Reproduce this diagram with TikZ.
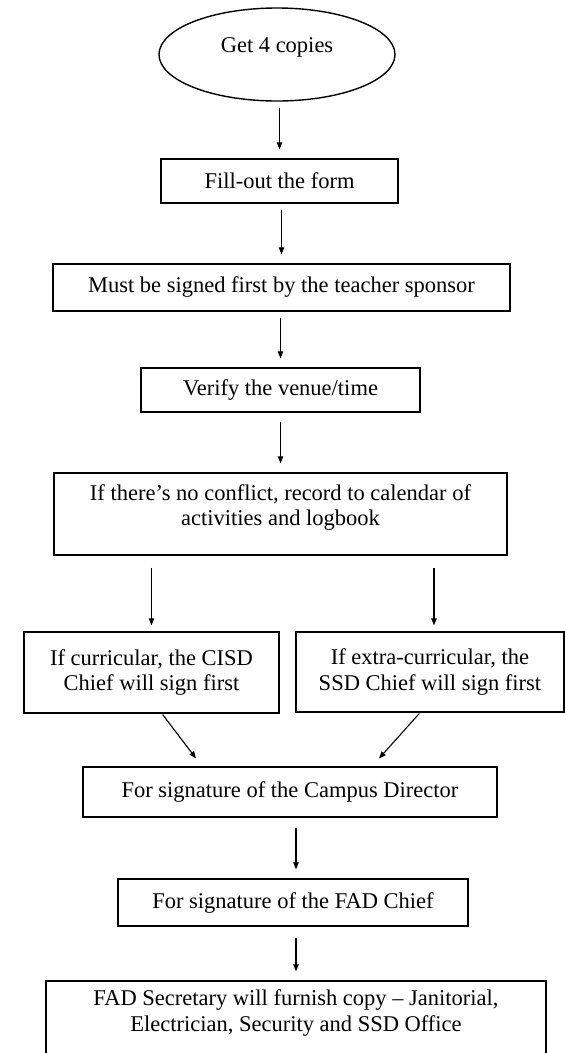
\documentclass[tikz,border=0pt]{standalone}
\usepackage{fontspec}
\setmainfont{Liberation Serif}
\usetikzlibrary{shapes.geometric,arrows.meta,calc}
\begin{document}
\begin{tikzpicture}[x=1pt,y=-1pt,
  every node/.style={font=\fontsize{22.5}{25.5}\selectfont, align=center},
  box/.style={draw, rectangle, line width=1.4pt, inner sep=0pt},
  oval/.style={draw, ellipse, line width=1.4pt, inner sep=0pt},
  arr/.style={-{Triangle[length=7pt,width=5.5pt]}, line width=1.1pt,
              shorten <=6pt, shorten >=9pt}]
  \useasboundingbox (0,0) rectangle (565,1053);

  % start
  \node[oval, minimum width=236, minimum height=93] (get) at (277,54.5) {};
  \node (gettext) at (277,47) {Get 4 copies};

  % main column
  \node[box, minimum width=237, minimum height=44] (fill) at (279.5,181) {Fill-out the form};
  \node[box, minimum width=457, minimum height=47] (must) at (281.5,287.5) {Must be signed first by the teacher sponsor};
  \node[box, minimum width=279, minimum height=44] (verify) at (280.5,390) {Verify the venue/time};
  \node[box, minimum width=453, minimum height=82] (conf) at (280.5,514) {};
  \node (conftext) at (280.5,507.5) {If there’s no conflict, record to calendar of\\activities and logbook};

  % two branches
  \node[box, minimum width=255, minimum height=81] (cisd) at (151.5,672.5) {If curricular, the CISD\\Chief will sign first};
  \node[box, minimum width=268, minimum height=80] (ssd) at (430,672) {If extra-curricular, the\\SSD Chief will sign first};

  % signatures and distribution
  \node[box, minimum width=414, minimum height=50] (camp) at (290,792) {For signature of the Campus Director};
  \node[box, minimum width=350, minimum height=47] (fad) at (293,902.5) {For signature of the FAD Chief};
  \node[box, minimum width=500, minimum height=84] (fin) at (296,1023) {};
  \node (fintext) at (296,1013) {FAD Secretary will furnish copy – Janitorial,\\Electrician, Security and SSD Office};

  % connectors
  \draw[arr] (get.south -| fill.north) -- (fill.north);
  \draw[arr] (fill.south -| must.north) -- (must.north);
  \draw[arr] (must.south -| verify.north) -- (verify.north);
  \draw[arr, shorten <=9pt] (verify.south -| conf.north) -- (conf.north);
  \draw[arr, shorten <=12pt, shorten >=6pt] (conf.south -| cisd.north) -- (cisd.north);
  \draw[arr, shorten <=12pt, shorten >=6pt] ($(conf.south -| ssd.north)+(4,0)$) -- ($(ssd.north)+(4,0)$);
  \draw[arr, shorten <=1pt, shorten >=10pt] ($(cisd.south)+(10.5,0)$) -- ($(camp.north)+(-88,0)$);
  \draw[arr, shorten <=1pt, shorten >=10.5pt] ($(ssd.south)+(-10,0)$) -- ($(camp.north)+(82,0)$);
  \draw[arr, shorten <=10pt] (camp.south -| fin.north) -- (fad.north -| fin.north);
  \draw[arr, shorten <=11pt] (fad.south -| fin.north) -- (fin.north);
\end{tikzpicture}
\end{document}
